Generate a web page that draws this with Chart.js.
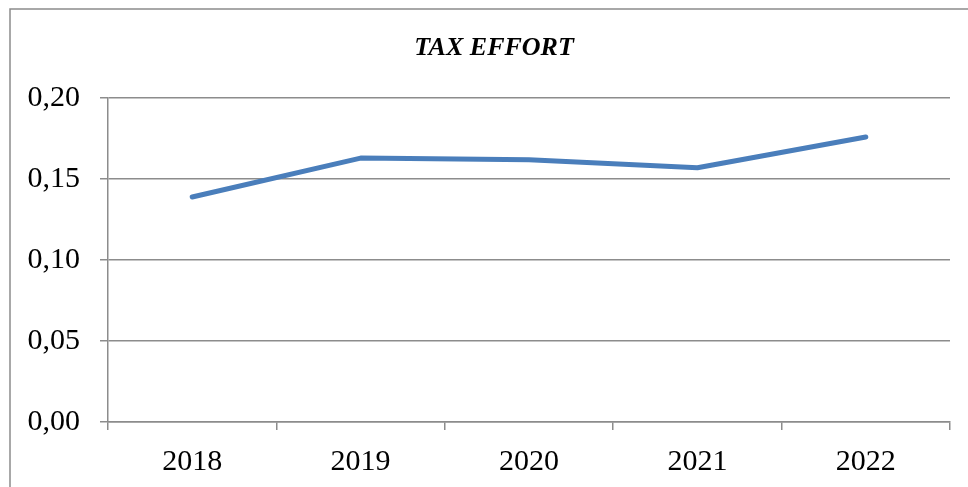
<!DOCTYPE html>
<html lang="en">
  <head>
    <meta charset="UTF-8" />
    <title>Tax Effort</title>
    <script src="https://cdn.jsdelivr.net/npm/chart.js"></script>
    <style>
      body {
        margin: 0;
        background: #fff;
      }
      .wrap {
        width: 968px;
        height: 487px;
      }
    </style>
  </head>
  <body>
    <div class="wrap"><canvas id="taxChart"></canvas></div>

    <script>
      const years = ["2018", "2019", "2020", "2021", "2022"];
      const taxEffort = [0.139, 0.163, 0.162, 0.157, 0.176];
      const yTicks = [0, 0.05, 0.1, 0.15, 0.2];

      const gray = "#8c8c8c";
      const serif = "'Liberation Serif', 'DejaVu Serif', serif";

      // outer frame of the chart object (left and top edges only visible)
      // and a small nudge so the title centres where the original does
      const framePlugin = {
        id: "frame",
        afterLayout(chart) {
          const t = chart.titleBlock;
          if (t) {
            t.left = 38;
            t.width = t.right - t.left;
          }
        },
        beforeDraw(chart) {
          const c = chart.ctx;
          c.save();
          c.strokeStyle = gray;
          c.lineWidth = 1.5;
          c.beginPath();
          c.moveTo(10, 490);
          c.lineTo(10, 9);
          c.lineTo(970, 9);
          c.stroke();
          c.restore();
        },
      };

      new Chart(document.getElementById("taxChart"), {
        type: "line",
        data: {
          labels: years,
          datasets: [
            {
              label: "Tax effort",
              data: taxEffort,
              borderColor: "#4a7ebb",
              borderWidth: 5,
              borderCapStyle: "round",
              borderJoinStyle: "round",
              pointRadius: 0,
              tension: 0,
            },
          ],
        },
        options: {
          responsive: true,
          maintainAspectRatio: false,
          animation: false,
          layout: { padding: { left: 10, right: 18, top: 0, bottom: 0 } },
          plugins: {
            legend: { display: false },
            tooltip: { enabled: false },
            title: {
              display: true,
              text: "TAX EFFORT",
              color: "#000",
              font: { family: serif, size: 26, style: "italic", weight: "bold" },
              padding: { top: 33, bottom: 34 },
            },
          },
          scales: {
            x: {
              offset: true,
              grid: {
                offset: true,
                drawOnChartArea: false,
                color: gray,
                lineWidth: 1.5,
                tickLength: 8,
              },
              border: { display: true, color: gray, width: 1.5 },
              ticks: {
                color: "#000",
                font: { family: serif, size: 30 },
                padding: 14,
                maxRotation: 0,
              },
              afterFit(scale) {
                scale.height = 65;
              },
            },
            y: {
              min: 0,
              max: 0.2,
              afterBuildTicks(scale) {
                scale.ticks = yTicks.map((v) => ({ value: v }));
              },
              grid: { color: gray, lineWidth: 1.5, tickLength: 8 },
              border: { display: true, color: gray, width: 1.5 },
              ticks: {
                color: "#000",
                font: { family: serif, size: 30 },
                padding: 20,
                callback: (v) => v.toFixed(2).replace(".", ","),
              },
              afterFit(scale) {
                scale.width = 98;
              },
            },
          },
        },
        plugins: [framePlugin],
      });
    </script>
  </body>
</html>
